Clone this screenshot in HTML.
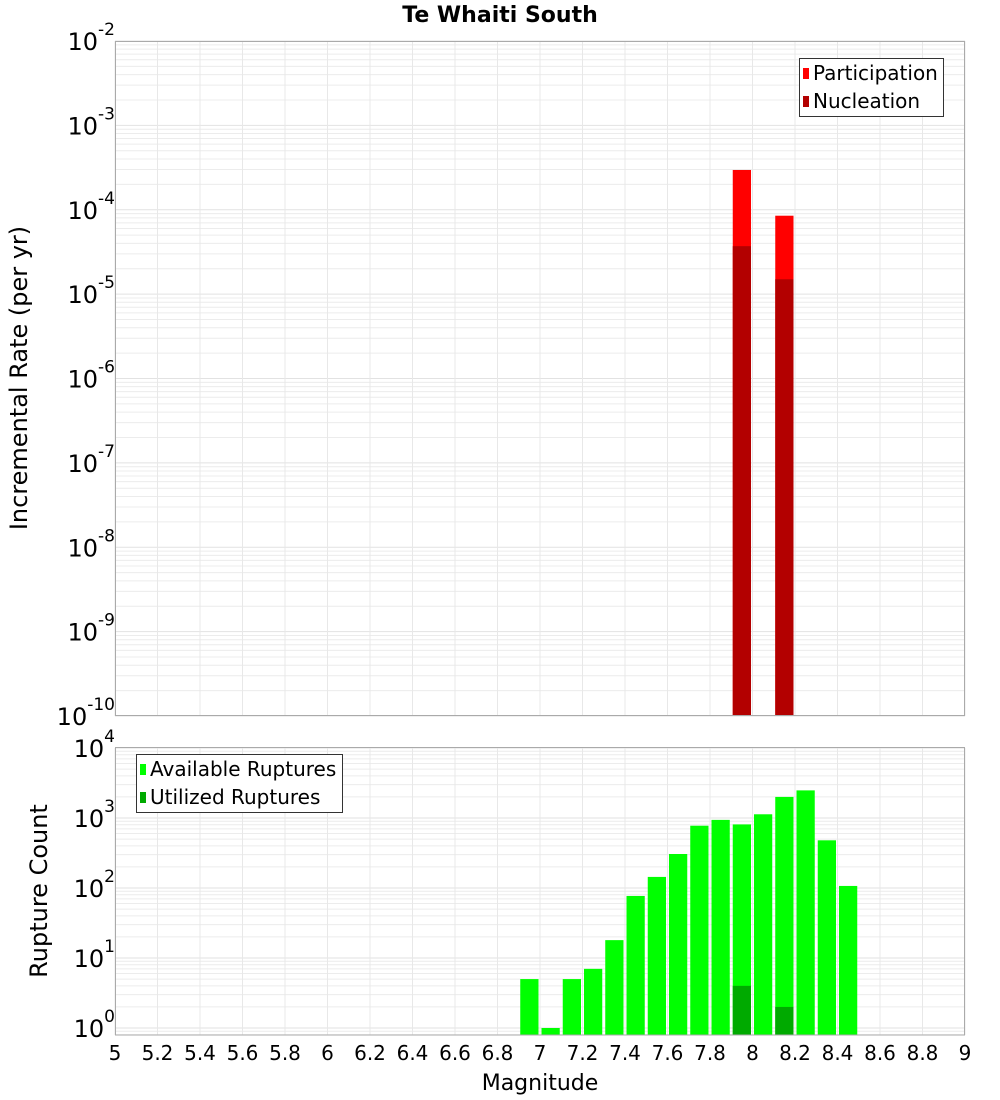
<!DOCTYPE html>
<html><head><meta charset="utf-8"><style>
html,body{margin:0;padding:0;background:#fff;}
svg{display:block;font-family:"DejaVu Sans","Liberation Sans",sans-serif;}
</style></head><body>
<svg id="chart" width="1000" height="1100" viewBox="0 0 1000 1100" xmlns="http://www.w3.org/2000/svg">
<text x="500" y="22" text-anchor="middle" font-size="22" font-weight="bold">Te Whaiti South</text>
<g id="top"></g>
<g id="bot"></g>
<text transform="translate(27,378) rotate(-90)" text-anchor="middle" font-size="24">Incremental Rate (per yr)</text>
<text transform="translate(47,891) rotate(-90)" text-anchor="middle" font-size="24">Rupture Count</text>
<text x="540" y="1090" text-anchor="middle" font-size="22">Magnitude</text>
</svg>
<script>
const rateMags = [7.95, 8.15];
const participation = [2.96e-4, 8.5e-5];
const nucleation = [3.7e-5, 1.5e-5];
const countMags = [6.95,7.05,7.15,7.25,7.35,7.45,7.55,7.65,7.75,7.85,7.95,8.05,8.15,8.25,8.35,8.45];
const available = [5,1,5,7,18,77,144,306,776,940,810,1130,2000,2480,480,107];
const utilMags = [7.95, 8.15];
const utilized = [4, 2];
const xTicks = ["5","5.2","5.4","5.6","5.8","6","6.2","6.4","6.6","6.8","7","7.2","7.4","7.6","7.8","8","8.2","8.4","8.6","8.8","9"];
const topExps = [-2,-3,-4,-5,-6,-7,-8,-9,-10];
const botExps = [4,3,2,1,0];

const NS="http://www.w3.org/2000/svg";
const X0=115,X1=965,M0=5,M1=9;
const xs=m=>X0+(m-M0)/(M1-M0)*(X1-X0);
const TT=41,TB=716, yTop=v=>TT+(-2-Math.log10(v))*(TB-TT)/8;
const BT=748, B0=1028, BB=1035, yBot=v=>B0-Math.log10(v)*(B0-BT)/4;
function mk(tag,attrs,parent){const e=document.createElementNS(NS,tag);for(const k in attrs)e.setAttribute(k,attrs[k]);parent.appendChild(e);return e;}
const svg=document.getElementById('chart');
const gT=document.getElementById('top'), gB=document.getElementById('bot');

function grid(g,top,bottom,decFrom,decTo,yf,name){
  const gg=mk('g',{},g);
  
  
  mk('rect',{x:X0,y:top,width:X1-X0,height:bottom-top,fill:'#fff'},gg);
  for(let d=decFrom;d<decTo;d++){for(let k=1;k<10;k++){const y=yf(k*Math.pow(10,d));if(y>=top&&y<=bottom)mk('line',{x1:X0,x2:X1,y1:y,y2:y,stroke:k==1?'#e2e2e2':'#ececec','stroke-width':1},gg);}}
  xTicks.forEach(t=>{const x=xs(+t);mk('line',{x1:x,x2:x,y1:top,y2:bottom,stroke:'#e8e8e8','stroke-width':1},gg);});
}
grid(gT,TT,TB,-10,-1,yTop,'top-grid');
grid(gB,BT,BB,-1,5,yBot,'bottom-grid');

function bar(g,m,v,yf,base,fill,name){
  const x=xs(m-0.05)+1.5,w=xs(m+0.05)-xs(m-0.05)-3,y=yf(v);
  const r=mk('rect',{x:x,y:y,width:w,height:base-y,fill:fill},g);
  
  
}
rateMags.forEach((m,i)=>bar(gT,m,participation[i],yTop,TB,'#ff0000','participation-bar'));
rateMags.forEach((m,i)=>bar(gT,m,nucleation[i],yTop,TB,'#b30000','nucleation-bar'));
countMags.forEach((m,i)=>bar(gB,m,available[i],yBot,BB,'#00ff00','available-bar'));
utilMags.forEach((m,i)=>bar(gB,m,utilized[i],yBot,BB,'#00aa00','utilized-bar'));

mk('rect',{x:X0+0.5,y:TT+0.5,width:X1-X0-1,height:TB-TT-1,fill:'none',stroke:'#aaa'},gT);
mk('rect',{x:X0+0.5,y:BT-0.5,width:X1-X0-1,height:BB-BT+0.5,fill:'none',stroke:'#aaa'},gB);

function ylab(g,exp,y,name){
  const s=mk('text',{x:115,y:y-6,'font-size':17,'text-anchor':'end'},g);
  
  
  s.textContent=String(exp);
  let sw=s.getComputedTextLength?s.getComputedTextLength():14;
  const t=mk('text',{x:115-sw,y:y+9,'text-anchor':'end','font-size':24},g);
  
  
  t.textContent='10';
}
topExps.forEach(e=>ylab(gT,e,yTop(Math.pow(10,e)),'top-y-tick-label'));
botExps.forEach(e=>ylab(gB,e,yBot(Math.pow(10,e)),'bottom-y-tick-label'));
xTicks.forEach(t=>{const tx=mk('text',{x:xs(+t),y:1060,'text-anchor':'middle','font-size':20},svg);
  
  
  tx.textContent=t;});

function legend(g,x,y,w,items,name){
  const lg=mk('g',{},g);
  
  
  mk('rect',{x:x+0.5,y:y+0.5,width:w,height:58,fill:'#fff',stroke:'#333','stroke-width':1},lg);
  items.forEach((it,i)=>{
    const yy=y+15+i*28;
    const sw=mk('rect',{x:x+4,y:yy-5,width:6,height:11,fill:it[1]},lg);
    
    
    const t=mk('text',{x:x+14,y:yy+7,'font-size':20},lg);
    
    
    t.textContent=it[0];
  });
}
legend(gT,799,58,144,[['Participation','#ff0000'],['Nucleation','#b30000']],'top-legend');
legend(gB,136,754,206,[['Available Ruptures','#00ff00'],['Utilized Ruptures','#00aa00']],'bottom-legend');
</script>
</body></html>
